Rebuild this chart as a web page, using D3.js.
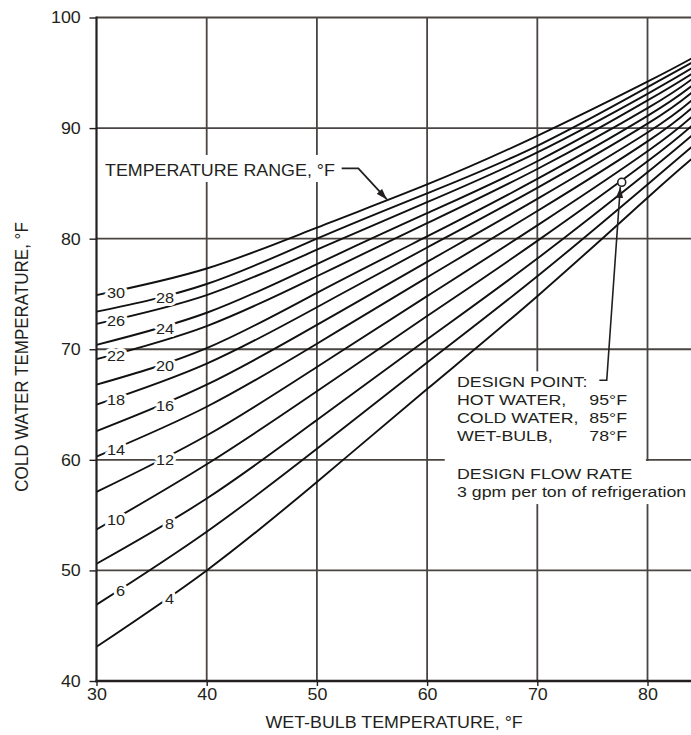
<!DOCTYPE html>
<html><head><meta charset="utf-8">
<script src="https://cdn.jsdelivr.net/npm/d3@7"></script>
<style>
body{margin:0;background:#fff}
svg{display:block}
text{font-family:"Liberation Sans",Arial,Helvetica,sans-serif}
</style>
</head><body><div id="chart"></div>
<script>
// ---------- data ----------
const wetBulb = [30, 40, 50, 60, 70, 80, 84];
const range4  = [43.1, 50.0, 58.0, 66.4, 74.8, 83.7, 87.2];
const range6  = [46.9, 53.5, 61.0, 68.8, 76.6, 84.9, 88.3];
const range8  = [50.6, 56.5, 63.6, 70.9, 78.2, 86.0, 89.3];
const range10 = [53.7, 59.6, 66.2, 73.0, 79.8, 87.0, 90.2];
const range12 = [57.1, 62.2, 68.4, 74.8, 81.2, 87.9, 91.0];
const range14 = [60.3, 64.8, 70.5, 76.5, 82.5, 88.8, 91.8];
const range16 = [62.6, 66.8, 72.2, 77.9, 83.6, 89.6, 92.5];
const range18 = [65.0, 68.7, 73.8, 79.2, 84.6, 90.4, 93.2];
const range20 = [66.8, 70.1, 75.1, 80.2, 85.4, 91.1, 93.8];
const range22 = [69.1, 72.1, 76.6, 81.4, 86.3, 91.8, 94.4];
const range24 = [70.4, 73.3, 77.7, 82.3, 87.0, 92.5, 94.9];
const range26 = [72.3, 74.9, 79.0, 83.3, 87.8, 93.1, 95.4];
const range28 = [73.4, 75.9, 80.0, 84.1, 88.4, 93.7, 95.9];
const range30 = [74.9, 77.3, 81.0, 84.9, 89.3, 94.2, 96.3];
const rangeValues = [4, 6, 8, 10, 12, 14, 16, 18, 20, 22, 24, 26, 28, 30];
const rangeSeries = [range4, range6, range8, range10, range12, range14, range16,
                     range18, range20, range22, range24, range26, range28, range30];
const xTickValues = [30, 40, 50, 60, 70, 80];
const yTickValues = [40, 50, 60, 70, 80, 90, 100];
const designPoint = {wb: 77.66, cw: 85.1};
const designLines = [
  ["DESIGN POINT:", ""],
  ["HOT WATER,", "95°F"],
  ["COLD WATER,", "85°F"],
  ["WET-BULB,", "78°F"]
];
const flowLines = ["DESIGN FLOW RATE", "3 gpm per ton of refrigeration"];

// ---------- setup ----------
const W = 691, H = 735;
const SX = 1.05;
const INK = "#231f20";
const GRID = "#4a4542";
const svg = d3.select("#chart").append("svg").attr("width", W).attr("height", H);

const x = d3.scaleLinear().domain([30, 84]).range([96.5, 691.6]);
const y = d3.scaleLinear().domain([40, 100]).range([681, 17.5]);

function addText(parent, str, px, py, size, anchor, sx) {
  const s = sx || SX;
  return parent.append("text")
    .attr("transform", `translate(${px},${py}) scale(${s},1)`)
    .attr("font-size", size)
    .attr("text-anchor", anchor || "start")
    .attr("fill", INK)
    .text(str);
}

const defs = svg.append("defs");
defs.append("clipPath").attr("id", "plotclip").append("rect")
  .attr("x", x(30)).attr("y", y(100)).attr("width", W - x(30)).attr("height", y(40) - y(100));
defs.append("marker").attr("id", "arrow")
  .attr("viewBox", "0 -4 11 8").attr("refX", 11).attr("refY", 0)
  .attr("markerWidth", 11).attr("markerHeight", 8)
  .attr("markerUnits", "userSpaceOnUse").attr("orient", "auto")
  .append("path").attr("d", "M0,-3.6L11,0L0,3.6Z").attr("fill", INK);

// ---------- grid ----------
const grid = svg.append("g");
grid.selectAll("line.vg").data(xTickValues.filter(v => v > 30)).join("line")
  .attr("class", "vg")
  .attr("x1", d => x(d)).attr("x2", d => x(d))
  .attr("y1", y(100)).attr("y2", y(40))
  .attr("stroke", GRID).attr("stroke-width", 1.8);
grid.selectAll("line.hg").data(yTickValues.filter(v => v > 40)).join("line")
  .attr("class", "hg")
  .attr("x1", x(30)).attr("x2", W)
  .attr("y1", d => y(d)).attr("y2", d => y(d))
  .attr("stroke", GRID).attr("stroke-width", 1.8);

// white boxes behind notes
const boxes = svg.append("g").attr("fill", "#fff");
boxes.append("rect").attr("x", x(30.41)).attr("y", y(87.57))
  .attr("width", x(52.1) - x(30.41)).attr("height", y(85.13) - y(87.57));
boxes.append("rect").attr("x", x(61.6)).attr("y", y(68.0))
  .attr("width", x(79.85) - x(61.6)).attr("height", y(56.0) - y(68.0));
boxes.append("rect").attr("x", x(79.85)).attr("y", y(60) + 1.2)
  .attr("width", W - x(79.85)).attr("height", y(56.0) - y(60) - 1.2);

// ---------- curves ----------
const line = d3.line()
  .x((d, i) => x(wetBulb[i]))
  .y(d => y(d))
  .curve(d3.curveNatural);

const curves = svg.append("g").attr("clip-path", "url(#plotclip)");
const paths = curves.selectAll("path").data(rangeSeries).join("path")
  .attr("d", line)
  .attr("fill", "none")
  .attr("stroke", "#111")
  .attr("stroke-width", 1.9);

function yAt(node, px) {
  let lo = 0, hi = node.getTotalLength();
  for (let k = 0; k < 40; k++) {
    const mid = (lo + hi) / 2;
    const p = node.getPointAtLength(mid);
    if (p.x < px) lo = mid; else hi = mid;
  }
  return node.getPointAtLength((lo + hi) / 2).y;
}

// ---------- axes ----------
const yAxis = svg.append("g").attr("transform", `translate(${x(30)},0)`)
  .call(d3.axisLeft(y).tickValues(yTickValues).tickSize(7).tickPadding(8));
yAxis.select(".domain").remove();
yAxis.selectAll(".tick line").attr("stroke", INK).attr("stroke-width", 1.4);
yAxis.selectAll(".tick text").attr("font-size", 17).attr("fill", INK)
  .attr("font-family", null)
  .attr("transform", `scale(${SX},1)`);

const xAxis = svg.append("g").attr("transform", `translate(0,${y(40)})`)
  .call(d3.axisBottom(x).tickValues(xTickValues).tickSize(5).tickPadding(2));
xAxis.select(".domain").remove();
xAxis.selectAll(".tick line").attr("stroke", INK).attr("stroke-width", 1.4);
xAxis.selectAll(".tick text").attr("font-size", 17).attr("fill", INK)
  .attr("font-family", null)
  .attr("transform", `scale(${SX},1)`);

svg.append("line").attr("x1", x(30)).attr("x2", x(30)).attr("y1", y(100) - 1).attr("y2", y(40) + 1.3)
  .attr("stroke", INK).attr("stroke-width", 2.2);
svg.append("line").attr("x1", x(30) - 1).attr("x2", W).attr("y1", y(40)).attr("y2", y(40))
  .attr("stroke", INK).attr("stroke-width", 2.6);

// axis titles
addText(svg, "WET-BULB TEMPERATURE, °F", x(57), 728, 17, "middle");
svg.append("text")
  .attr("transform", `translate(28,357) rotate(-90) scale(1,${SX})`)
  .attr("font-size", 17).attr("text-anchor", "middle").attr("fill", INK)
  .text("COLD WATER TEMPERATURE, °F");

// ---------- curve labels ----------
const labelG = svg.append("g");
paths.each(function(d, i) {
  const r = rangeValues[i];
  const endX = (r % 4 === 2) ? x(32.59) : x(37.03);
  const t = addText(labelG, String(r), endX, 0, 15.5, "end")
    .attr("stroke", "#fff").attr("stroke-width", 6)
    .attr("stroke-linejoin", "round").attr("paint-order", "stroke");
  const w = t.node().getComputedTextLength() * SX;
  const ly = yAt(this, endX - w / 2);
  t.attr("transform", `translate(${endX},${ly + 7}) scale(${SX},1)`);
});

// ---------- temperature range note ----------
addText(svg, "TEMPERATURE RANGE, °F", x(30.77), y(85.71), 17, "start");
const tipX = x(56.35);
const tipY = yAt(paths.nodes()[rangeValues.indexOf(30)], tipX) - 1;
svg.append("path")
  .attr("d", `M${x(52.25)},${y(86.36)}L${x(53.76)},${y(86.36)}L${tipX},${tipY}`)
  .attr("fill", "none").attr("stroke", INK).attr("stroke-width", 1.8)
  .attr("marker-end", "url(#arrow)");

// ---------- design point ----------
svg.append("path")
  .attr("d", `M${x(75.63)},${y(67.2)}L${x(76.3)},${y(67.2)}L${x(77.53)},${y(84.67)}`)
  .attr("fill", "none").attr("stroke", INK).attr("stroke-width", 1.6)
  .attr("marker-end", "url(#arrow)");
svg.append("circle").attr("cx", x(designPoint.wb)).attr("cy", y(designPoint.cw)).attr("r", 4)
  .attr("fill", "#fff").attr("stroke", INK).attr("stroke-width", 1.6);

const NOTE_FS = 15.2, NOTE_SX = 1.17;
const noteX = x(62.71);
const lineYs = [66.57, 64.94, 63.32, 61.69];
designLines.forEach((row, i) => {
  addText(svg, row[0], noteX, y(lineYs[i]), NOTE_FS, "start", NOTE_SX);
  if (row[1]) addText(svg, row[1], x(78.14), y(lineYs[i]), NOTE_FS, "end", NOTE_SX);
});
addText(svg, flowLines[0], noteX, y(58.27), NOTE_FS, "start", NOTE_SX);
addText(svg, flowLines[1], noteX, y(56.64), NOTE_FS, "start", NOTE_SX);
</script>
</body></html>
